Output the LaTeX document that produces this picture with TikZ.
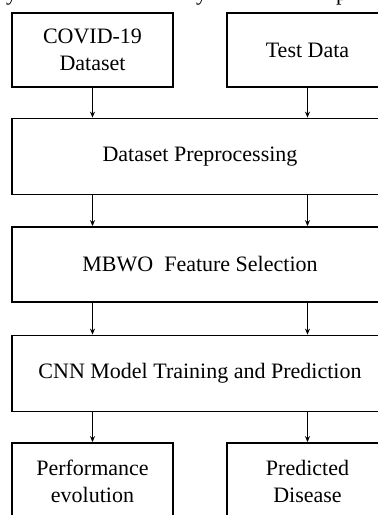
\documentclass[tikz,border=0pt]{standalone}
\usepackage{fontspec}
\setmainfont{Liberation Serif}
\usetikzlibrary{arrows.meta}
\tikzset{
  box/.style={draw=black, line width=1.8pt, fill=white, inner sep=0pt, align=center,
    font=\fontsize{22}{27}\selectfont},
  smallbox/.style={box, minimum width=161pt, minimum height=74pt},
  widebox/.style={box, minimum width=376pt, minimum height=76pt},
  frag/.style={inner sep=0pt, anchor=base west, font=\fontsize{22}{27}\selectfont},
  flow/.style={draw=black, line width=1.2pt, -{Stealth[length=6pt,width=5pt]}}
}
\begin{document}
\begin{tikzpicture}[x=1pt,y=-1pt]
\useasboundingbox (0,0) rectangle (378,515);
\clip (0,0) rectangle (378,515);
\fill[white] (0,0) rectangle (378,515);
\node[frag] (frag1) at (6,0.5) {y};
\node[frag] (frag2) at (196,0.5) {y};
\node[frag] (frag3) at (336,0.5) {p};
\node[smallbox] (covid) at (92.5,50) {COVID-19\\Dataset};
\node[smallbox] (test) at (307.5,50) {Test Data};
\node[widebox] (pre) at (200,156.5) {Dataset Preprocessing};
\node[widebox, minimum height=75pt] (mbwo) at (200,264.5) {MBWO\ \ Feature Selection};
\node[widebox] (cnn) at (200,373.5) {CNN Model Training and Prediction};
\node[smallbox, minimum height=76pt] (perf) at (92.5,481) {Performance\\evolution};
\node[smallbox, minimum height=76pt] (pred) at (307.5,481) {Predicted\\Disease};
\draw[flow] (covid.south) -- (covid.south |- pre.north);
\draw[flow] (test.south) -- (test.south |- pre.north);
\draw[flow] (covid.south |- pre.south) -- (covid.south |- mbwo.north);
\draw[flow] (test.south |- pre.south) -- (test.south |- mbwo.north);
\draw[flow] (covid.south |- mbwo.south) -- (covid.south |- cnn.north);
\draw[flow] (test.south |- mbwo.south) -- (test.south |- cnn.north);
\draw[flow] (perf.north |- cnn.south) -- (perf.north);
\draw[flow] (pred.north |- cnn.south) -- (pred.north);
\end{tikzpicture}
\end{document}
